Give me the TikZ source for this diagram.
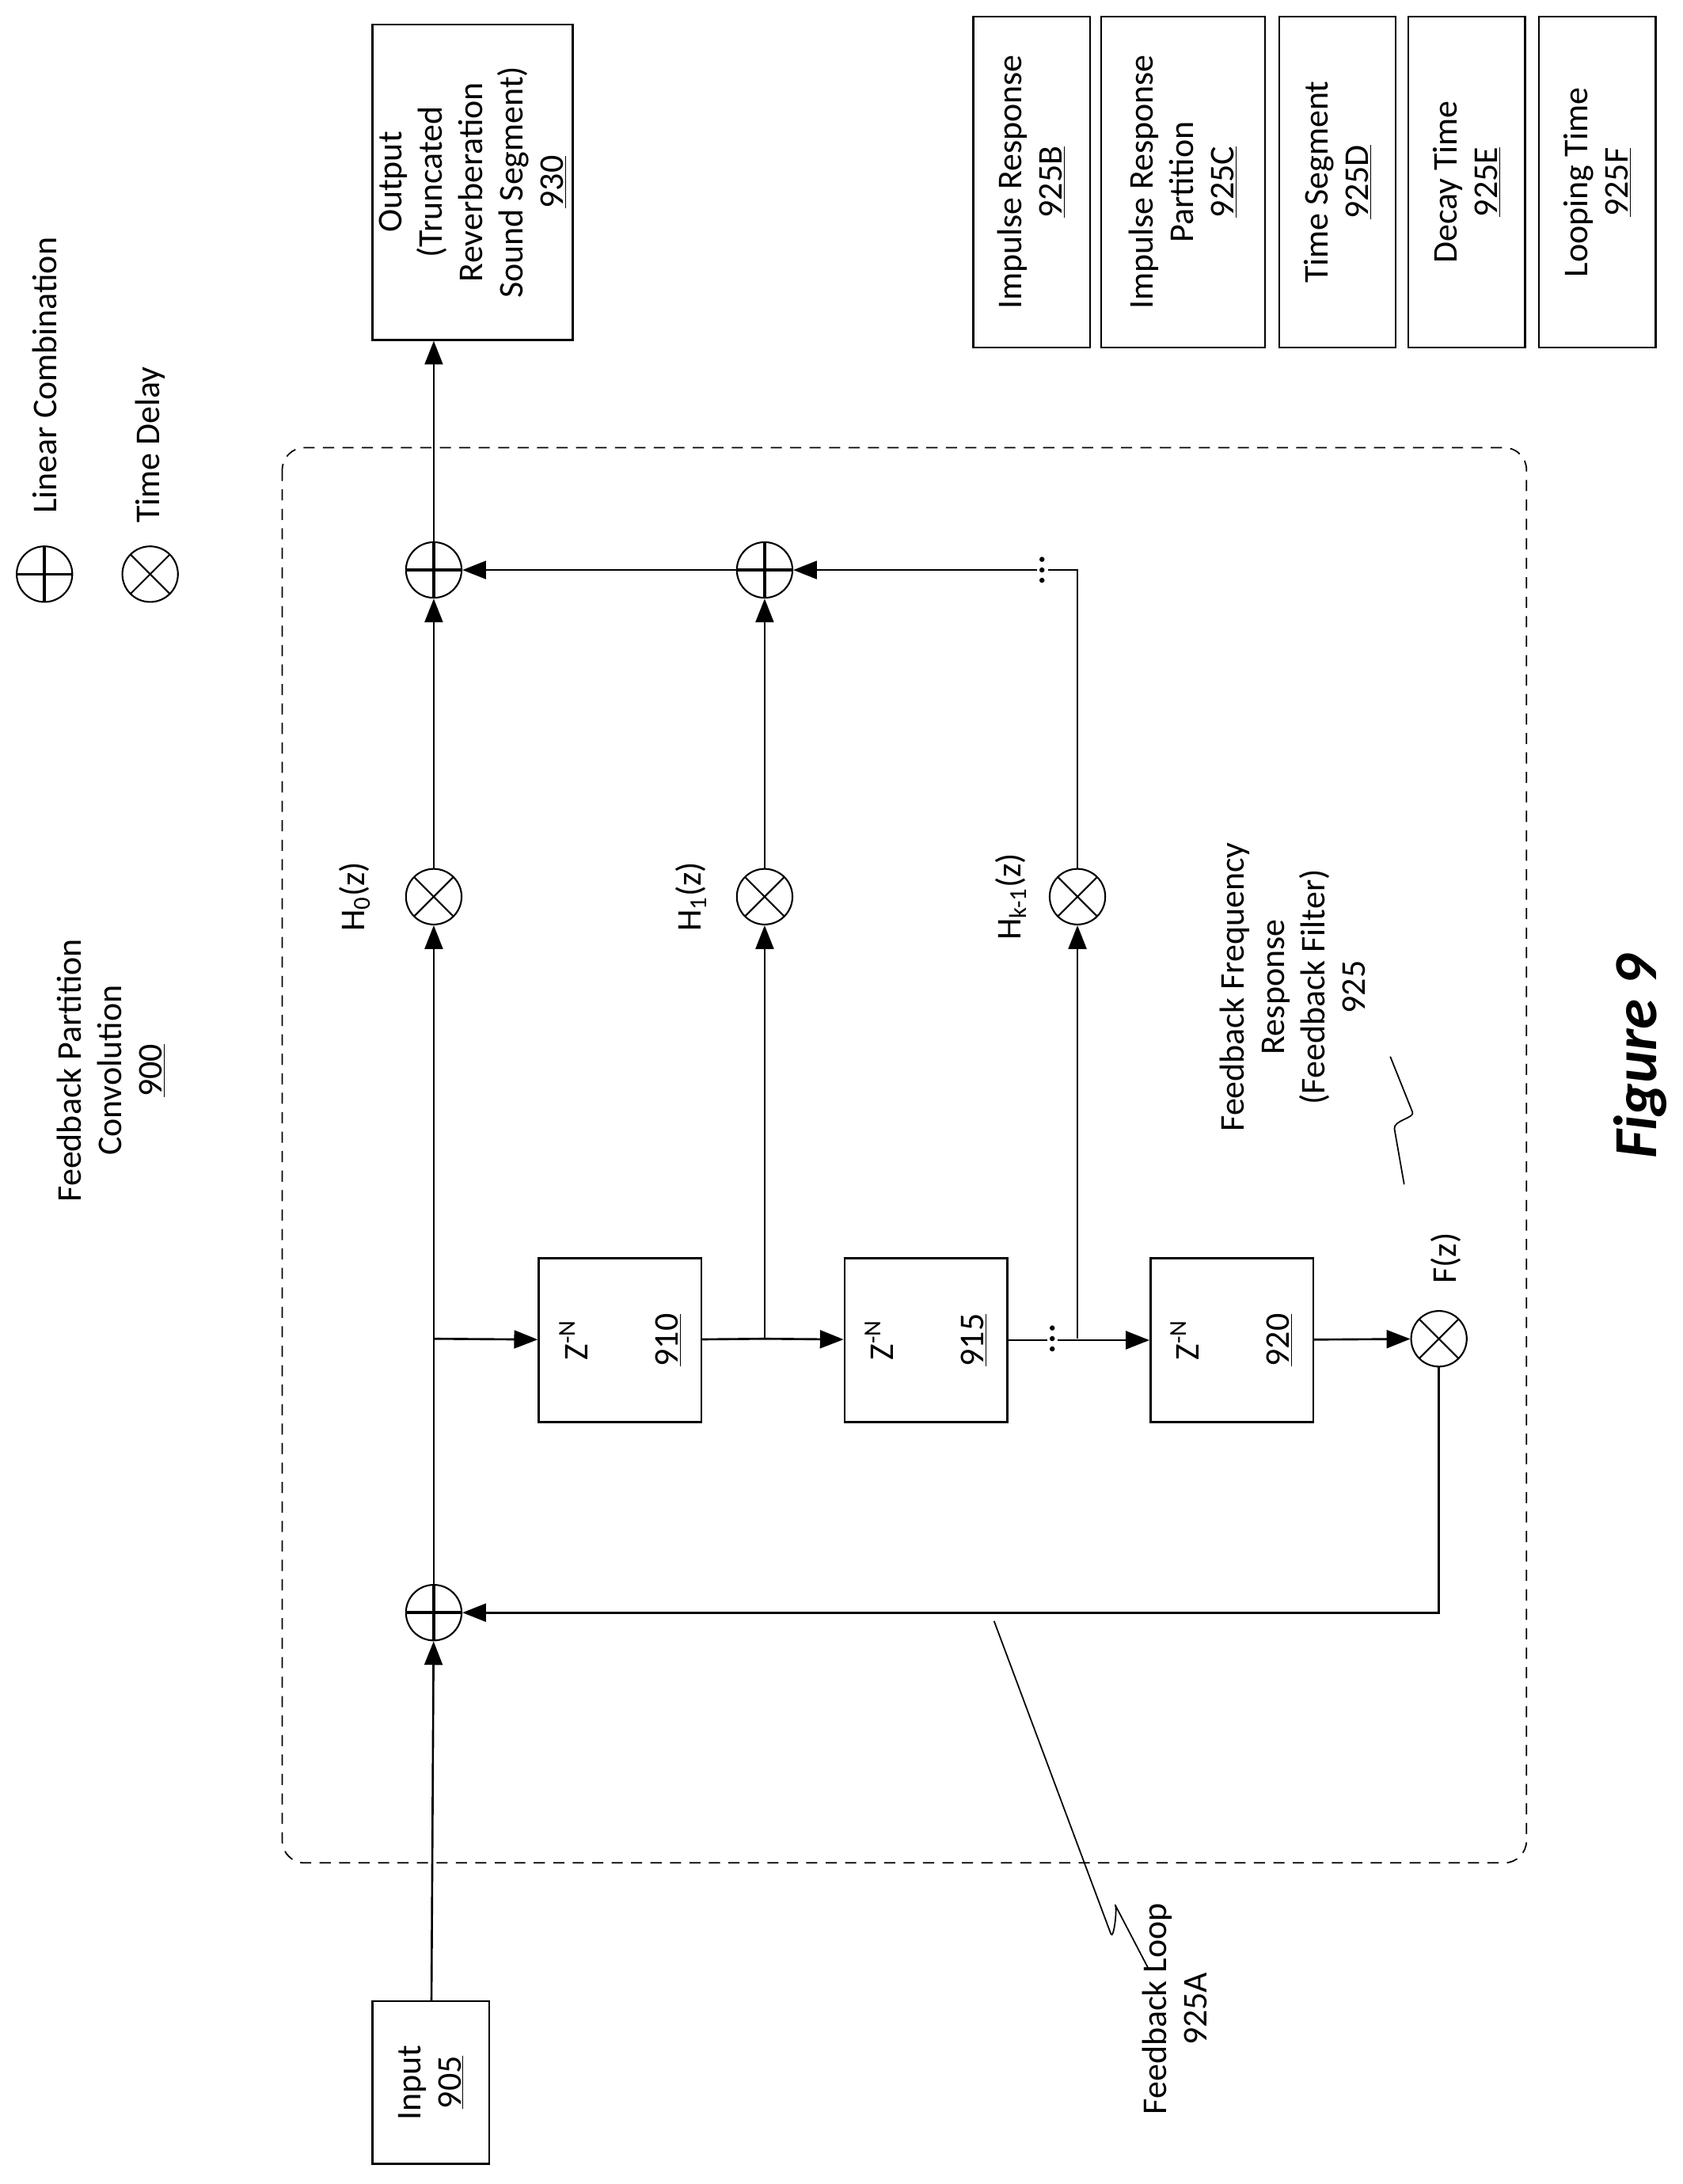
\documentclass[tikz,border=0pt]{standalone}
\usepackage{fontspec}
\setmainfont{Carlito}
\usetikzlibrary{arrows.meta}
\tikzset{
  lbl/.style={rotate=90,align=center,inner sep=0pt,font=\fontsize{25}{29}\selectfont},
  blk/.style={lbl,draw,line width=1.4pt,inner sep=0pt},
  ring/.style={circle,draw,line width=1.2pt,minimum size=40,inner sep=0pt},
  sum/.style={ring,path picture={\draw[line width=2pt]
    (path picture bounding box.north)--(path picture bounding box.south)
    (path picture bounding box.west)--(path picture bounding box.east);}},
  mul/.style={ring,path picture={\draw[line width=1.2pt]
    (path picture bounding box.north west)--(path picture bounding box.south east)
    (path picture bounding box.north east)--(path picture bounding box.south west);}},
  wire/.style={line width=1.5pt},
  flow/.style={wire,-{Triangle[length=17pt,width=13pt]}},
  lead/.style={line width=1pt}
}
\begin{document}
\begin{tikzpicture}[x=1pt,y=-1pt]
\path[use as bounding box,fill=white] (0,0) rectangle (1210,1571);

% legend
\node[lbl] (lc) at (32,270) {Linear Combination};
\node[sum] (lsum) at (32,413) {};
\node[lbl] (td) at (108,320) {Time Delay};
\node[mul] (lmul) at (108,413) {};
\node[lbl] (title) at (80,770) {Feedback Partition\\Convolution\\\underline{900}};

% loop frame
\draw[line width=1pt,dash pattern=on 8pt off 6pt,rounded corners=16pt] (203,322) rectangle (1098,1340);

% blocks
\node[blk,minimum width=117,minimum height=84] (in) at (310,1498) {Input\\\underline{905}};
\node[blk,minimum width=227,minimum height=144] (out) at (340,131) {Output\\(Truncated\\Reverberation\\Sound Segment)\\\underline{930}};
\node[blk,minimum width=118,minimum height=117] (d1) at (446,964) {Z\textsuperscript{-N}\\[36pt]\underline{910}};
\node[blk,minimum width=118,minimum height=117] (d2) at (666,964) {Z\textsuperscript{-N}\\[36pt]\underline{915}};
\node[blk,minimum width=118,minimum height=117] (d3) at (886,964) {Z\textsuperscript{-N}\\[36pt]\underline{920}};

% sums and taps
\node[sum] (p0) at (312,1160) {};
\node[mul] (m0) at (312,645) {};
\node[mul] (m1) at (550,645) {};
\node[mul] (m2) at (775,645) {};
\node[sum] (s0) at (312,410) {};
\node[sum] (s1) at (550,410) {};
\node[mul] (mf) at (1035,963) {};
\coordinate (b0) at (312,963);
\coordinate (b1) at (550,963);
\coordinate (b2) at (775,963);
\coordinate (t2) at (775,410);

\node[lbl] (h0) at (255,645) {H\textsubscript{0}(z)};
\node[lbl] (h1) at (497,645) {H\textsubscript{1}(z)};
\node[lbl] (h2) at (727,645) {H\textsubscript{k-1}(z)};
\node[lbl] (fz) at (1040,905) {F(z)};

% connectors
\draw[flow] (in) -- (p0);
\draw[flow] (p0) -- (m0);
\draw[flow] (m0) -- (s0);
\draw[flow] (s0) -- (s0 |- out.west);
\draw[flow] (b0) -- (d1);
\draw[wire] (d1) -- (b1);
\draw[flow] (b1) -- (d2);
\draw[flow] (b1) -- (m1);
\draw[flow] (m1) -- (s1);
\draw[flow] (s1) -- (s0);
\draw[flow] (d2) -- (d3);
\draw[flow] (b2) -- (m2);
\draw[flow] (m2) -- (t2) -- (s1);
\draw[flow] (d3) -- (mf);
\draw[flow] (mf) |- (p0);
\node[lbl,fill=white,inner sep=2pt,font=\fontsize{30}{30}\selectfont] (dt1) at (757,963) {\dots};
\node[lbl,fill=white,inner sep=2pt,font=\fontsize{30}{30}\selectfont] (dt2) at (750,410) {\dots};

% callouts
\node[lbl] (fl) at (845,1445) {Feedback Loop\\925A};
\draw[lead] (715,1166) -- (799,1391) .. controls (801,1396) and (804,1372) .. (802,1370) -- (826,1416);
\node[lbl] (ff) at (930,710) {Feedback Frequency\\Response\\(Feedback Filter)\\925};
\draw[lead] (1010,852) -- (1003,812) .. controls (1002,806) and (1018,804) .. (1016,800) -- (1000,760);

% right legend
\node[blk,minimum width=238,minimum height=84] (rb) at (742,131) {Impulse Response\\\underline{925B}};
\node[blk,minimum width=238,minimum height=118] (rc) at (851,131) {Impulse Response\\Partition\\\underline{925C}};
\node[blk,minimum width=238,minimum height=84] (rd) at (962,131) {Time Segment\\\underline{925D}};
\node[blk,minimum width=238,minimum height=84] (re) at (1055,131) {Decay Time\\\underline{925E}};
\node[blk,minimum width=238,minimum height=84] (rf) at (1149,131) {Looping Time\\\underline{925F}};

\node[lbl,font=\fontsize{44}{48}\selectfont\bfseries\itshape] (fig) at (1180,760) {Figure 9};
\end{tikzpicture}
\end{document}
